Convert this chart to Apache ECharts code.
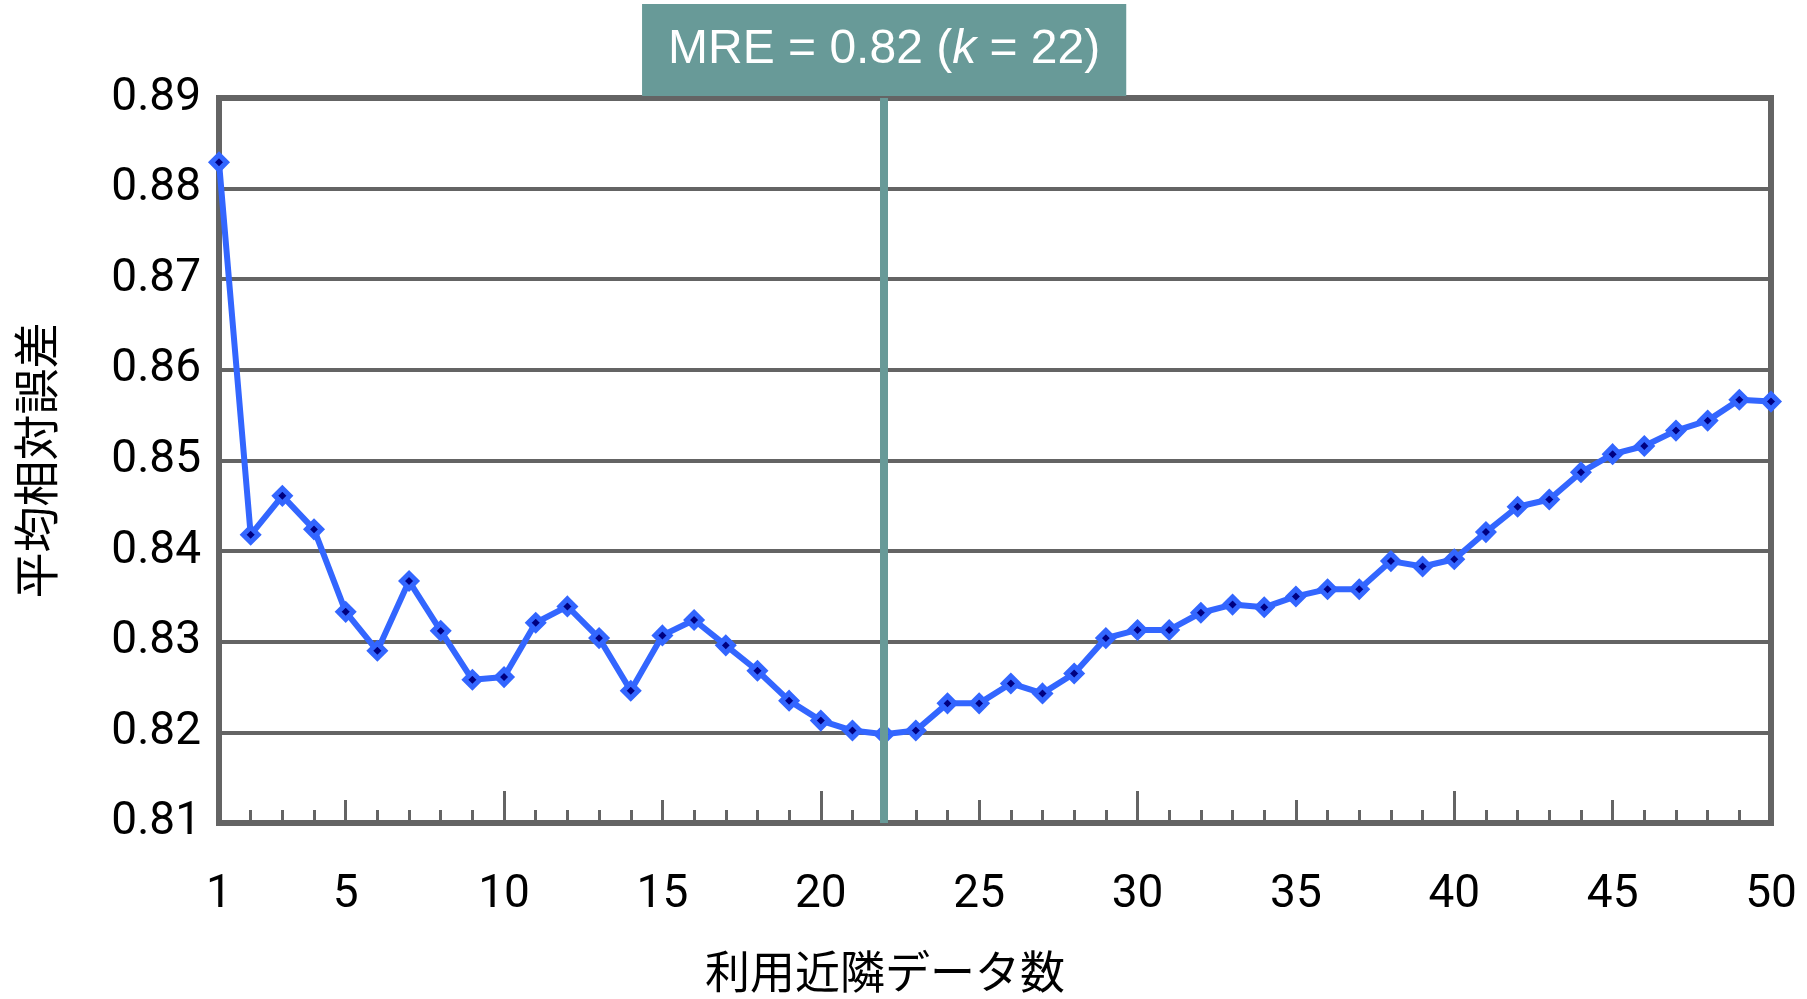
<!DOCTYPE html>
<html>
<head>
<meta charset="utf-8">
<title>平均相対誤差</title>
<script src="https://cdn.jsdelivr.net/npm/echarts@6/dist/echarts.min.js"></script>
<style>
    html, body { margin: 0; padding: 0; background: #ffffff; }
    #chart { width: 1807px; height: 999px; }
</style>
</head>
<body>
<div id="chart"></div>
<script>
// k = number of neighbours used, value = mean relative error
var kValues = [
    1, 2, 3, 4, 5, 6, 7, 8, 9, 10,
    11, 12, 13, 14, 15, 16, 17, 18, 19, 20,
    21, 22, 23, 24, 25, 26, 27, 28, 29, 30,
    31, 32, 33, 34, 35, 36, 37, 38, 39, 40,
    41, 42, 43, 44, 45, 46, 47, 48, 49, 50
];
var mreValues = [
    0.8829, 0.8418, 0.8461, 0.8424, 0.8333, 0.8290, 0.8367, 0.8312, 0.8258, 0.8261,
    0.8321, 0.8339, 0.8304, 0.8246, 0.8307, 0.8324, 0.8296, 0.8268, 0.8235, 0.8213,
    0.8202, 0.8198, 0.8202, 0.8232, 0.8232, 0.8254, 0.8243, 0.8265, 0.8304, 0.8313,
    0.8313, 0.8332, 0.8341, 0.8338, 0.8350, 0.8358, 0.8358, 0.8389, 0.8383, 0.8391,
    0.8421, 0.8449, 0.8457, 0.8487, 0.8507, 0.8516, 0.8533, 0.8544, 0.8567, 0.8565
];
var xLabelValues = [1, 5, 10, 15, 20, 25, 30, 35, 40, 45, 50];
var minorTickValues = kValues.slice(1);
var fiveTickValues = [5, 15, 25, 35, 45];
var tenTickValues = [10, 20, 30, 40];
var bestK = 22;
var bestLabel = ['MRE = 0.82 (', 'k', ' = 22)'];

var gray = '#646464';
var teal = '#689a98';
var numFont = 'Roboto, "Liberation Sans", sans-serif';
var jpFont = '"Noto Sans CJK JP", sans-serif';

function tickAxis(values, length) {
    return {
        type: 'value',
        gridIndex: 0,
        position: 'bottom',
        min: 1,
        max: 50,
        axisLine: { show: false },
        axisLabel: { show: false },
        splitLine: { show: false },
        axisTick: {
            show: true,
            inside: true,
            length: length,
            customValues: values,
            lineStyle: { color: gray, width: 3 }
        }
    };
}

var chart = echarts.init(document.getElementById('chart'), null, { renderer: 'canvas' });

chart.setOption({
    animation: false,
    backgroundColor: '#ffffff',
    grid: {
        left: 219,
        right: 36,
        top: 98,
        bottom: 172,
        show: true,
        borderColor: gray,
        borderWidth: 6,
        backgroundColor: 'transparent'
    },
    xAxis: [
        {
            type: 'value',
            min: 1,
            max: 50,
            position: 'bottom',
            name: '利用近隣データ数',
            nameLocation: 'middle',
            nameGap: 126,
            // the title sits left of the plot centre in the original
            nameTextStyle: { fontSize: 45, color: '#000', fontFamily: jpFont, padding: [0, 220, 0, 0] },
            axisLine: { show: false },
            splitLine: { show: false },
            axisTick: {
                show: true,
                inside: true,
                length: 13,
                customValues: minorTickValues,
                lineStyle: { color: gray, width: 3 }
            },
            axisLabel: {
                customValues: xLabelValues,
                margin: 50,
                fontSize: 46,
                color: '#000',
                fontFamily: numFont
            }
        },
        tickAxis(fiveTickValues, 23),
        tickAxis(tenTickValues, 32)
    ],
    yAxis: {
        type: 'value',
        min: 0.81,
        max: 0.89,
        interval: 0.01,
        name: '平均相対誤差',
        nameLocation: 'middle',
        nameRotate: 90,
        nameGap: 160,
        nameTextStyle: { fontSize: 46, color: '#000', fontFamily: jpFont },
        axisLine: { show: false },
        axisTick: { show: false },
        axisLabel: {
            margin: 18,
            fontSize: 46,
            color: '#000',
            fontFamily: numFont,
            formatter: function (v) { return v.toFixed(2); }
        },
        splitLine: { lineStyle: { color: gray, width: 4 } }
    },
    series: [
        {
            type: 'line',
            name: 'best',
            data: [],
            z: 1,
            markLine: {
                silent: true,
                symbol: 'none',
                animation: false,
                lineStyle: { color: teal, width: 8, type: 'solid' },
                label: {
                    show: true,
                    position: 'end',
                    distance: 2,
                    backgroundColor: teal,
                    padding: [18, 26, 18, 26],
                    formatter: '{a|' + bestLabel[0] + '}{k|' + bestLabel[1] + '}{a|' + bestLabel[2] + '}',
                    rich: {
                        a: { fontSize: 48, color: '#fff', fontFamily: '"Liberation Sans", Arial, sans-serif', lineHeight: 56 },
                        k: { fontSize: 48, color: '#fff', fontStyle: 'italic', fontFamily: '"Liberation Sans", Arial, sans-serif', lineHeight: 56 }
                    }
                },
                emphasis: { disabled: true },
                data: [{ xAxis: bestK }]
            }
        },
        {
            type: 'line',
            name: 'MRE',
            z: 3,
            data: kValues.map(function (k, i) { return [k, mreValues[i]]; }),
            symbol: 'diamond',
            symbolSize: 15,
            lineStyle: { color: '#3366ff', width: 6 },
            itemStyle: { color: '#000080', borderColor: '#3366ff', borderWidth: 5 },
            emphasis: { disabled: true }
        }
    ]
});
</script>
</body>
</html>
